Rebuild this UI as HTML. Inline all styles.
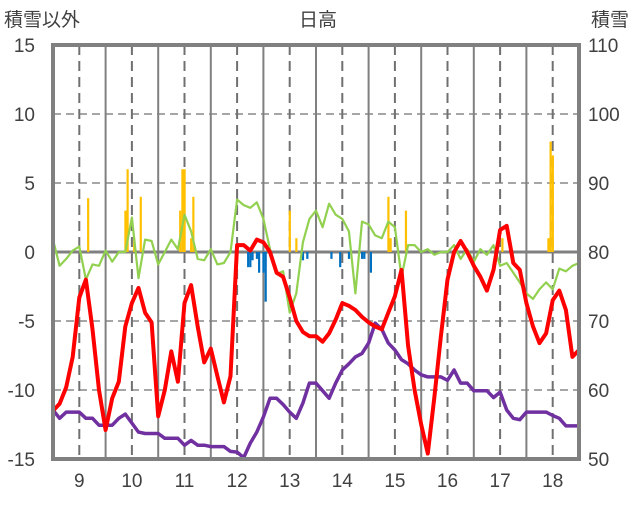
<!DOCTYPE html>
<html><head><meta charset="utf-8"><style>
body{margin:0;background:#fff;width:636px;height:501px;overflow:hidden}
svg text{font-family:"Liberation Sans","Noto Sans CJK JP",sans-serif;fill:#404040}
</style></head><body>
<svg id="chart" width="636" height="501" xmlns="http://www.w3.org/2000/svg"></svg>
<script>
const dayLabels=["9","10","11","12","13","14","15","16","17","18"];
const leftTicks=[15,10,5,0,-5,-10,-15];
const rightTicks=[110,100,90,80,70,60,50];
const redTemp=[-11.5,-11,-9.8,-7.6,-3.3,-2,-5.6,-10,-12.9,-10.6,-9.4,-5.4,-3.7,-2.6,-4.4,-5.1,-11.9,-10,-7.2,-9.4,-3.7,-2.4,-5.4,-8,-7,-9,-10.9,-9,0.5,0.5,0.1,0.9,0.7,0,-1.5,-1.8,-3.3,-5,-5.8,-6.1,-6.1,-6.5,-5.9,-4.9,-3.7,-3.9,-4.2,-4.7,-5.1,-5.4,-5.6,-4.4,-3.2,-1.3,-6.8,-10,-12.5,-14.6,-10.5,-6.1,-2,0,0.8,0,-1,-1.8,-2.8,-1.3,1.6,1.9,-0.8,-1.3,-3.7,-5.4,-6.6,-5.9,-3.5,-2.8,-4.2,-7.6,-7.1];
const greenVals=[0.9,-1,-0.5,0.1,0.4,-2,-0.9,-1,0.1,-0.7,0,0,2.5,-1.9,0.9,0.8,-0.9,0,0.9,0.2,2.7,1.5,-0.5,-0.6,0.2,-0.9,-0.8,0,3.8,3.4,3.2,3.6,2.4,0.2,-1.6,-1.4,-4.4,-3,0.7,2.4,3,1.8,3.5,2.7,2.4,1.5,-3,2.2,2,1.2,1,2.2,1.8,-1.8,0.5,0.5,0,0.2,-0.2,0,0,0.5,-0.5,0.2,-0.7,0.2,-0.2,0.5,-1,-0.8,-1.5,-2.2,-3,-3.4,-2.7,-2.2,-2.7,-1.2,-1.4,-1,-0.8];
const purpleSnow=[57.1,55.9,56.8,56.8,56.8,55.9,55.9,54.9,54.9,54.9,55.9,56.5,55.2,53.9,53.7,53.7,53.7,53,53,53,52,52.7,52,52,51.8,51.8,51.8,51.1,51,50.2,52.3,53.9,56.1,58.8,58.8,57.9,56.8,55.9,58.1,61,61,59.9,58.8,61,62.9,63.8,64.8,65.3,66.8,69.7,68.8,66.8,65.8,64.4,63.8,62.9,62.2,61.9,61.9,61.9,61.4,62.9,61,61,59.9,59.9,59.9,58.9,59.7,57.1,55.9,55.7,56.8,56.8,56.8,56.8,56.3,55.9,54.8,54.8,54.8];
const orangeHours=[16,33,34,37,40,58,59,60,63,64,108,111,153,154,161,205,226,227,228];
const orangeVals=[3.9,3,6,1,4,3,6,6,1,4,3,1,4,1,3,1,1,8,7];
const blueHours=[89,90,91,93,94,96,97,114,116,127,131,135,141,142,145];
const blueVals=[-1.1,-1.1,-0.6,-0.5,-1.5,-1.5,-3.6,-0.6,-0.5,-0.5,-1.1,-0.5,-0.5,-0.5,-1.5];

const L=53,R=579,T=45,B=459,HOURS=240,STEP=3;
const xH=h=>L+(R-L)*h/HOURS;
const yL=v=>T+(15-v)*(B-T)/30;
const yR=v=>T+(110-v)*(B-T)/60;
const svg=document.getElementById('chart');
const NS='http://www.w3.org/2000/svg';
function mk(tag,attrs,parent){const e=document.createElementNS(NS,tag);for(const k in attrs)e.setAttribute(k,attrs[k]);(parent||svg).appendChild(e);return e;}

[10,5,-5,-10].forEach(v=>{const l=mk('line',{x1:L,x2:R,y1:yL(v),y2:yL(v),stroke:'#a6a6a6','stroke-width':2,'stroke-dasharray':'8,5'});

});
for(let d=0;d<10;d++){
  if(d>0){const s=mk('line',{x1:xH(d*24),x2:xH(d*24),y1:T,y2:B,stroke:'#808080','stroke-width':2});
  
  }
  const dl=mk('line',{x1:xH(d*24+12),x2:xH(d*24+12),y1:T,y2:B,stroke:'#707070','stroke-width':2,'stroke-dasharray':'10,6'});
  
  
  const t=mk('text',{x:xH(d*24+12),y:487,'font-size':19,'text-anchor':'middle'});t.textContent=dayLabels[d];
  
  
}
const z=mk('line',{x1:L,x2:R,y1:yL(0),y2:yL(0),stroke:'#808080','stroke-width':3});


orangeHours.forEach((h,i)=>{const y=yL(orangeVals[i]);const b=mk('rect',{x:xH(h)-1,y:y,width:2.2,height:yL(0)-y,fill:'#ffc000'});

});
blueHours.forEach((h,i)=>{const y=yL(blueVals[i]);const b=mk('rect',{x:xH(h)-1,y:yL(0),width:2.2,height:y-yL(0),fill:'#0070c0'});

});
function line(arr,fy,color,w,name){const p=arr.map((v,i)=>xH(i*STEP).toFixed(1)+','+fy(v).toFixed(1)).join(' ');
const e=mk('polyline',{points:p,fill:'none',stroke:color,'stroke-width':w,'stroke-linejoin':'round'});

}
line(greenVals,yL,'#92d050',2.2,'green-series');
line(purpleSnow,yR,'#7030a0',3.5,'snow-depth-line');
line(redTemp,yL,'#ff0000',4,'temperature-line');
const bd=mk('rect',{x:L,y:T,width:R-L,height:B-T,fill:'none',stroke:'#808080','stroke-width':4});


leftTicks.forEach(v=>{const t=mk('text',{x:35,y:yL(v)+7,'font-size':19,'text-anchor':'end'});t.textContent=v;

});
rightTicks.forEach(v=>{const t=mk('text',{x:588,y:yR(v)+7,'font-size':19});t.textContent=v;

});
const t1=mk('text',{x:4,y:26,'font-size':19});t1.textContent='積雪以外';


const t2=mk('text',{x:591,y:26,'font-size':19});t2.textContent='積雪';


const t3=mk('text',{x:318,y:26,'font-size':19,'text-anchor':'middle'});t3.textContent='日高';


</script>
</body></html>
